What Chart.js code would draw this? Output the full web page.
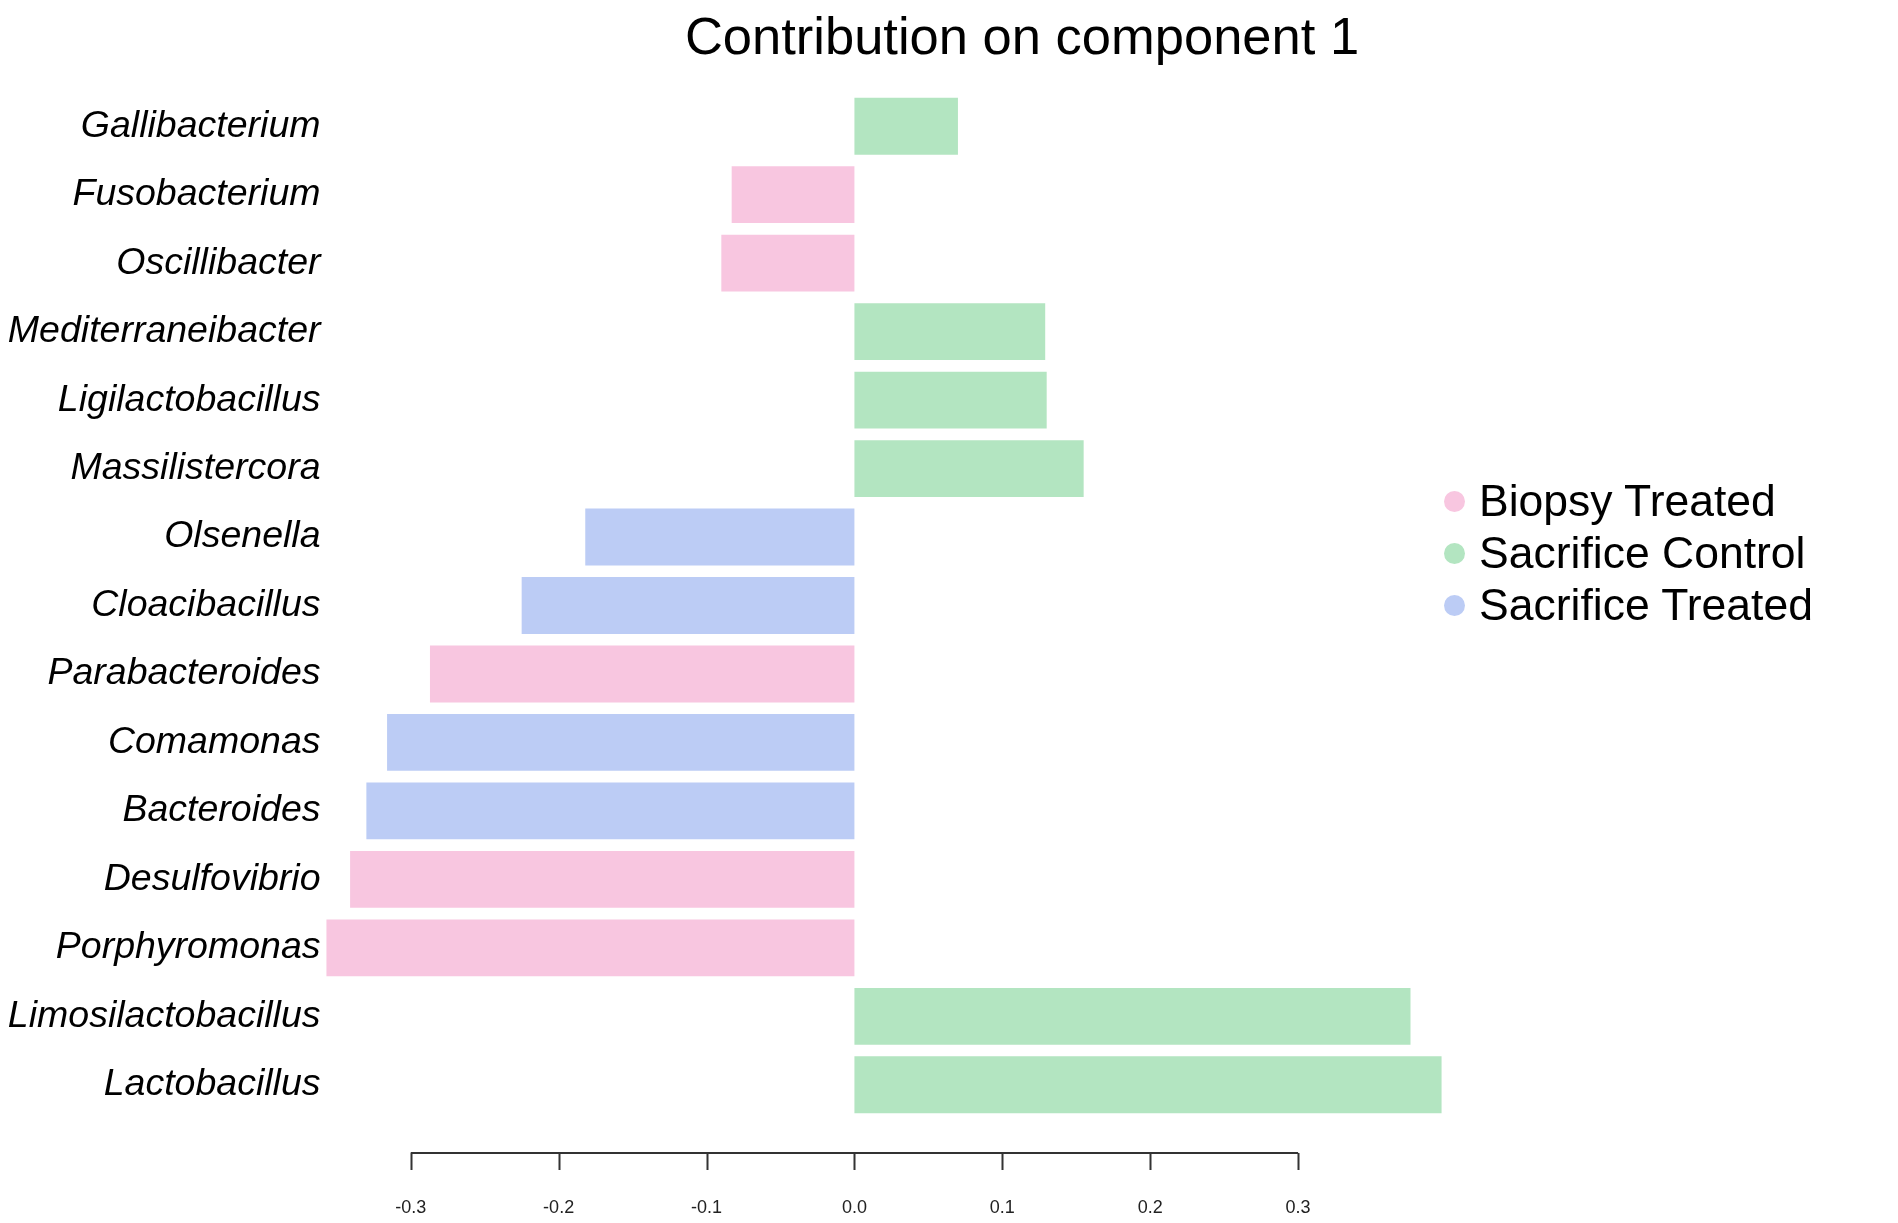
<!DOCTYPE html>
<html>
<head>
<meta charset="utf-8">
<script src="https://cdn.jsdelivr.net/npm/chart.js@4/dist/chart.umd.min.js"></script>
<style>
    html, body { margin: 0; padding: 0; background: #fff; }
    #wrap { position: relative; width: 1898px; height: 1223px; font-family: "Liberation Sans", Arial, sans-serif; }
    #title {
        position: absolute; left: 1022px; top: 6px; transform: translateX(-50%);
        font-size: 52.5px; line-height: 60px; white-space: nowrap; color: #000;
    }
    #legend { position: absolute; left: 1444px; top: 475px; }
    .item { display: flex; align-items: center; height: 52px; font-size: 44.5px; color: #000; white-space: nowrap; }
    .dot { width: 21px; height: 21px; border-radius: 50%; margin-right: 14px; }
</style>
</head>
<body>
<div id="wrap">
    <canvas id="chart" width="1898" height="1223"></canvas>
    <div id="title">Contribution on component 1</div>
    <div id="legend"></div>
</div>
<script>
const genera = [
    'Gallibacterium', 'Fusobacterium', 'Oscillibacter', 'Mediterraneibacter',
    'Ligilactobacillus', 'Massilistercora', 'Olsenella', 'Cloacibacillus',
    'Parabacteroides', 'Comamonas', 'Bacteroides', 'Desulfovibrio',
    'Porphyromonas', 'Limosilactobacillus', 'Lactobacillus'
];
const contributions = [
    0.070, -0.083, -0.090, 0.129,
    0.130, 0.155, -0.182, -0.225,
    -0.287, -0.316, -0.330, -0.341,
    -0.357, 0.376, 0.397
];
// group index for each genus (0 Biopsy Treated, 1 Sacrifice Control, 2 Sacrifice Treated)
const groupOf = [1, 0, 0, 1, 1, 1, 2, 2, 0, 2, 2, 0, 0, 1, 1];
const groupNames = ['Biopsy Treated', 'Sacrifice Control', 'Sacrifice Treated'];
const groupColors = ['#F8C6E0', '#B3E5C1', '#BCCCF5'];
const tickValues = [-0.3, -0.2, -0.1, 0.0, 0.1, 0.2, 0.3];

// R style axis: line only between first and last tick, set a bit below the bars
const rAxisPlugin = {
    id: 'rAxis',
    afterDraw(chart) {
        const { ctx, chartArea: { bottom }, scales: { x } } = chart;
        const y = bottom + 34;
        ctx.save();
        ctx.strokeStyle = '#333';
        ctx.lineWidth = 2;
        ctx.beginPath();
        ctx.moveTo(x.getPixelForValue(tickValues[0]), y);
        ctx.lineTo(x.getPixelForValue(tickValues[tickValues.length - 1]), y);
        for (const v of tickValues) {
            const px = Math.round(x.getPixelForValue(v)) + 0.5;
            ctx.moveTo(px, y);
            ctx.lineTo(px, y + 17);
        }
        ctx.stroke();
        ctx.restore();
    }
};

const legend = document.getElementById('legend');
groupNames.forEach((name, i) => {
    const item = document.createElement('div');
    item.className = 'item';
    item.innerHTML = '<span class="dot" style="background:' + groupColors[i] + '"></span>' + name;
    legend.appendChild(item);
});

new Chart(document.getElementById('chart').getContext('2d'), {
    type: 'bar',
    data: {
        labels: genera,
        datasets: [{
            data: contributions,
            backgroundColor: groupOf.map(g => groupColors[g]),
            borderWidth: 0,
            barPercentage: 0.83,
            categoryPercentage: 1
        }]
    },
    options: {
        indexAxis: 'y',
        responsive: false,
        animation: false,
        layout: { padding: { top: 92, right: 452, bottom: 0, left: 0 } },
        plugins: {
            legend: { display: false },
            tooltip: { enabled: false }
        },
        scales: {
            x: {
                min: -0.36,
                max: 0.40,
                grid: { display: false, drawTicks: false },
                border: { display: false },
                afterBuildTicks: scale => { scale.ticks = tickValues.map(v => ({ value: v })); },
                afterFit: scale => { scale.height = 104; },
                ticks: {
                    padding: 78,
                    color: '#222',
                    font: { family: '"Liberation Sans", Arial, sans-serif', size: 18 },
                    callback: v => v.toFixed(1)
                }
            },
            y: {
                grid: { display: false, drawTicks: false },
                border: { display: false },
                afterFit: scale => { scale.width = 322; },
                ticks: {
                    padding: 1.5,
                    color: '#000',
                    font: { family: '"Liberation Sans", Arial, sans-serif', size: 37.5, style: 'italic' }
                }
            }
        }
    },
    plugins: [rAxisPlugin]
});
</script>
</body>
</html>
